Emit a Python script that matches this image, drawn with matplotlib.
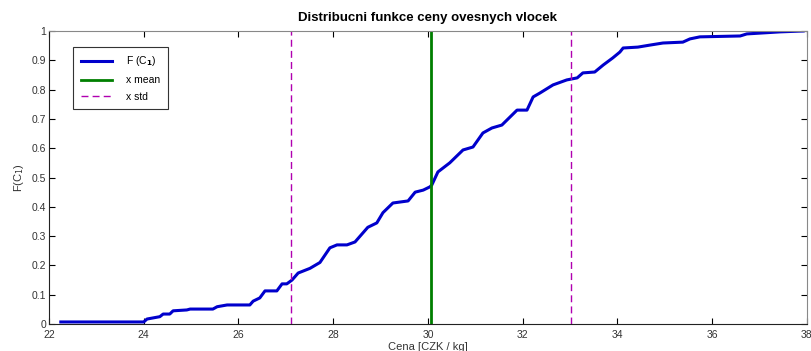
import numpy as np
import matplotlib.pyplot as plt

plt.rcParams['font.family'] = ['Liberation Sans', 'DejaVu Sans']

price = [22.25, 24.0, 24.07, 24.34, 24.41, 24.55, 24.62, 24.91, 24.98, 25.46,
         25.55, 25.76, 26.24, 26.31, 26.45, 26.56, 26.81, 26.92, 27.02, 27.13,
         27.26, 27.51, 27.72, 27.93, 28.08, 28.29, 28.46, 28.73, 28.92, 29.05,
         29.26, 29.58, 29.73, 29.9, 30.04, 30.08, 30.21, 30.46, 30.74, 30.95,
         31.16, 31.35, 31.56, 31.88, 32.09, 32.22, 32.36, 32.64, 32.93, 33.15,
         33.27, 33.52, 33.7, 33.9, 34.05, 34.12, 34.43, 34.69, 34.96, 35.38,
         35.53, 35.74, 36.59, 36.73, 37.43, 37.92]
cdf = [0.007, 0.007, 0.017, 0.025, 0.034, 0.034, 0.045, 0.048, 0.051, 0.051,
       0.059, 0.065, 0.065, 0.078, 0.089, 0.113, 0.113, 0.137, 0.137, 0.15,
       0.174, 0.19, 0.21, 0.26, 0.27, 0.27, 0.28, 0.33, 0.345, 0.38,
       0.413, 0.42, 0.45, 0.457, 0.468, 0.474, 0.519, 0.55, 0.594, 0.604,
       0.652, 0.669, 0.679, 0.73, 0.73, 0.775, 0.788, 0.816, 0.833, 0.84,
       0.857, 0.86, 0.884, 0.908, 0.928, 0.942, 0.945, 0.952, 0.959, 0.962,
       0.973, 0.98, 0.983, 0.99, 0.997, 1.0]

x_mean = 30.06
x_std = [27.11, 33.02]

xticks = [22, 24, 26, 28, 30, 32, 34, 36, 38]
yticks = [0, 0.1, 0.2, 0.3, 0.4, 0.5, 0.6, 0.7, 0.8, 0.9, 1]
ytick_labels = ['0', '0.1', '0.2', '0.3', '0.4', '0.5', '0.6', '0.7', '0.8', '0.9', '1']

fig = plt.figure(figsize=(8.12, 3.51), dpi=100)
ax = fig.add_axes([0.0603, 0.0769, 0.9335, 0.8348])

ax.plot(price, cdf, color='#0000cc', lw=2.2, label='F (C$_\\mathbf{1}$)')
ax.axvline(x_mean, color='#007f00', lw=2.0, label='x mean')
ax.axvline(x_std[0], color='#b000b0', lw=1.0, ls=(0, (5, 3)), label='x std')
ax.axvline(x_std[1], color='#b000b0', lw=1.0, ls=(0, (5, 3)))

ax.set_xlim(22, 38)
ax.set_ylim(0, 1)
ax.set_xticks(xticks)
ax.set_xticklabels([str(t) for t in xticks])
ax.set_yticks(yticks)
ax.set_yticklabels(ytick_labels)
ax.tick_params(direction='in', top=True, right=True, length=4, width=0.8,
               labelsize=7.5, labelcolor='#333333', pad=2)
ax.tick_params(axis='x', pad=4)
for side in ['left', 'bottom']:
    ax.spines[side].set_color('#222222')
for side in ['top', 'right']:
    ax.spines[side].set_color('#888888')

ax.set_title('Distribucni funkce ceny ovesnych vlocek', fontsize=9.5, fontweight='bold', pad=7)
ax.set_xlabel('Cena [CZK / kg]', fontsize=8, color='#333333', labelpad=2)
ax.set_ylabel('F(C$_1$)', fontsize=8, color='#333333', labelpad=4)

leg = ax.legend(loc='upper left', bbox_to_anchor=(0.032, 0.945), borderaxespad=0,
                fontsize=7.5, fancybox=False, edgecolor='#333333', framealpha=1,
                handlelength=3.0, labelspacing=0.65, borderpad=0.7, handletextpad=1.4)
leg.get_frame().set_linewidth(0.8)

fig.savefig('out.png', dpi=100)
